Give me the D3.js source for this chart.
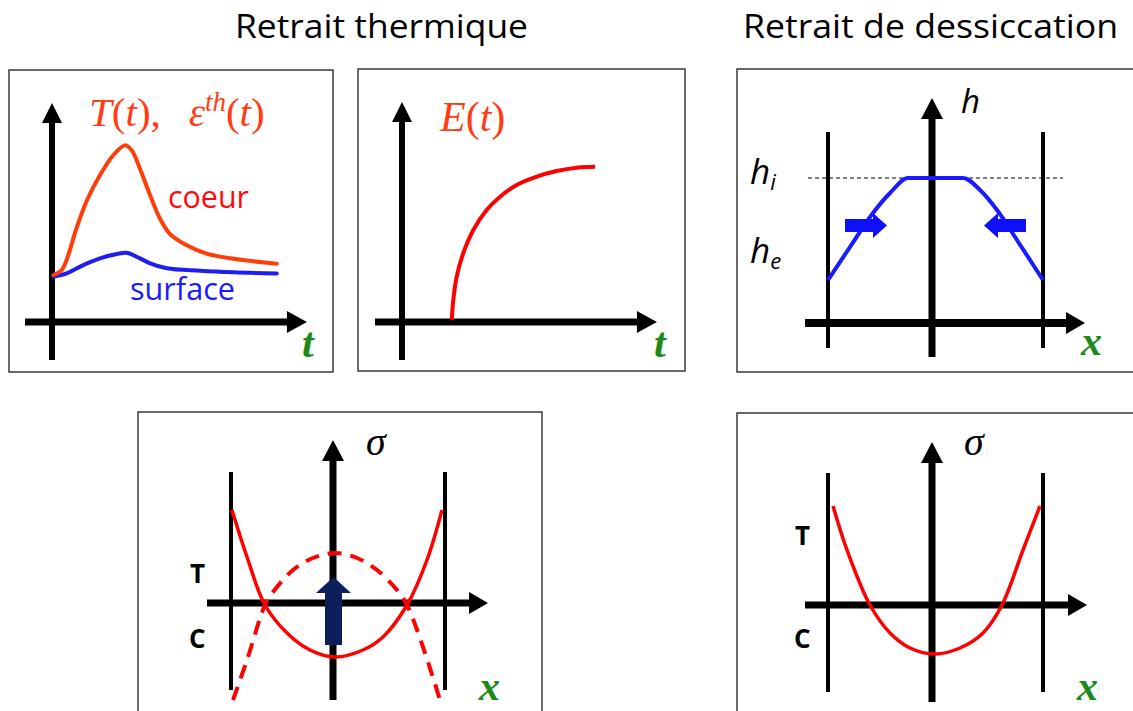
<!DOCTYPE html>
<meta charset="utf-8">
<style>
body { margin: 0; background: #fff; }
text { font-family: "Open Sans", sans-serif; }
.serif { font-family: "Liberation Serif", "Times New Roman", serif; }
</style>
<svg width="1133" height="711"></svg>
<script src="https://d3js.org/d3.v7.min.js"></script>
<script>

// ---- data ----
// thermal panel: t, value
var coeur = [[0.06,2.09],[0.43,2.31],[0.65,2.76],[1.1,4.2],[1.54,5.38],[2.13,6.52],[2.72,7.41],[3.24,7.85],
             [3.54,7.63],[3.91,6.81],[4.36,5.63],[4.8,4.59],[5.24,3.92],[5.99,3.41],[6.87,3.04],[8.06,2.81],[9.99,2.59]];
var surface = [[0.06,2.01],[0.65,2.16],[1.39,2.53],[2.13,2.83],[2.88,3.02],[3.32,3.08],[3.76,2.9],[4.36,2.61],
               [5.1,2.39],[6.58,2.28],[8.06,2.21],[9.99,2.16]];
// modulus E(t)
var modulus = [[2.21,0.09],[2.28,0.98],[2.43,2.01],[2.72,3.05],[3.17,4.09],[3.76,4.98],[4.36,5.57],[5.1,6.09],
               [5.99,6.46],[6.87,6.71],[7.76,6.86],[8.58,6.9]];
// humidity profile h(x)
var humidity = [[-1.04,0.43],[-0.82,0.76],[-0.59,1.10],[-0.42,1.30],[-0.24,1.45],[0.31,1.45],[0.48,1.33],
                [0.65,1.13],[0.85,0.83],[1.11,0.43]];
var hInit = 1.45;
// thermal stresses sigma(x)
var stressSolid = [[-1.01,0.93],[-0.86,0.46],[-0.68,-0.02],[-0.46,-0.30],[-0.23,-0.47],[0.02,-0.54],[0.30,-0.47],
                   [0.50,-0.34],[0.74,-0.02],[0.94,0.43],[1.09,0.93]];
var stressDashed = [[-1.0,-0.97],[-0.86,-0.57],[-0.68,-0.02],[-0.60,0.11],[-0.40,0.33],[-0.20,0.45],[0.02,0.50],
                    [0.24,0.45],[0.44,0.33],[0.64,0.13],[0.74,-0.02],[0.90,-0.44],[1.07,-0.97]];
// drying stresses sigma(x)
var stressDry = [[-0.99,0.99],[-0.85,0.55],[-0.62,0],[-0.42,-0.28],[-0.22,-0.43],[0.03,-0.49],[0.28,-0.43],
                 [0.51,-0.28],[0.70,0],[0.91,0.55],[1.08,0.99]];
var walls = [-1.04, 1.11];
var wallsTh = [-1.02, 1.12];

var titles = ["Retrait thermique", "Retrait de dessiccation"];

var svg = d3.select("svg");
svg.append("rect").attr("width", 1133).attr("height", 711).attr("fill", "#fff");

function arrow(g, x1, y1, x2, y2, w, hl, hw, col) {
  var dx = x2 - x1, dy = y2 - y1, L = Math.hypot(dx, dy), ux = dx / L, uy = dy / L;
  var bx = x2 - ux * hl, by = y2 - uy * hl;
  g.append("line").attr("x1", x1).attr("y1", y1).attr("x2", bx + ux).attr("y2", by + uy)
    .attr("stroke", col).attr("stroke-width", w);
  g.append("path")
    .attr("d", "M" + x2 + "," + y2 + "L" + (bx - uy * hw) + "," + (by + ux * hw) + "L" + (bx + uy * hw) + "," + (by - ux * hw) + "Z")
    .attr("fill", col);
}

function frame(x, y, w, h) {
  svg.append("rect").attr("x", x).attr("y", y).attr("width", w).attr("height", h)
    .attr("fill", "none").attr("stroke", "#3a3a3a").attr("stroke-width", 1.5);
}

function greenLabel(x, y, s) {
  svg.append("text").attr("class", "serif").attr("x", x).attr("y", y)
    .attr("font-size", 42).attr("font-style", "italic").attr("font-weight", "bold")
    .attr("fill", "#1b8a1b").text(s);
}

function tcLabels(xT, yT, xC, yC) {
  svg.append("text").attr("x", xT).attr("y", yT).attr("font-size", 26).attr("font-weight", "bold").text("T");
  svg.append("text").attr("x", xC).attr("y", yC).attr("font-size", 26).attr("font-weight", "bold").text("C");
}

// titles
svg.append("text").attr("x", 235).attr("y", 38).attr("font-size", 32)
  .attr("textLength", 293).attr("lengthAdjust", "spacingAndGlyphs").text(titles[0]);
svg.append("text").attr("x", 743).attr("y", 38).attr("font-size", 32)
  .attr("textLength", 375).attr("lengthAdjust", "spacingAndGlyphs").text(titles[1]);

// ---- panel 1 : T(t), eps_th(t) ----
frame(9, 70, 324, 302);
var x1 = d3.scaleLinear().domain([0, 10]).range([52, 277]);
var y1 = d3.scaleLinear().domain([0, 10]).range([322, 97]);
var line1 = d3.line().x(function(d) { return x1(d[0]); }).y(function(d) { return y1(d[1]); })
  .curve(d3.curveCatmullRom.alpha(0.5));
arrow(svg, x1(0), y1(-1.69), x1(0), y1(9.73), 6, 20, 10, "#000");
arrow(svg, x1(-1.2), y1(0), x1(11.33), y1(0), 7, 20, 11, "#000");
svg.append("path").datum(surface).attr("d", line1).attr("fill", "none")
  .attr("stroke", "#1e1ef0").attr("stroke-width", 4).attr("stroke-linecap", "round");
svg.append("path").datum(coeur).attr("d", line1).attr("fill", "none")
  .attr("stroke", "#ff3d0a").attr("stroke-width", 4).attr("stroke-linecap", "round");
var tt = svg.append("text").attr("class", "serif").attr("x", 89).attr("y", 126)
  .attr("font-size", 41).attr("fill", "#ff3d14");
tt.append("tspan").attr("font-style", "italic").text("T");
tt.append("tspan").text("(");
tt.append("tspan").attr("font-style", "italic").text("t");
tt.append("tspan").text("),");
tt.append("tspan").attr("font-style", "italic").attr("dx", 28).text("ε");
tt.append("tspan").attr("font-style", "italic").attr("font-size", 27).attr("dy", -15).text("th");
tt.append("tspan").attr("dy", 15).text("(");
tt.append("tspan").attr("font-style", "italic").text("t");
tt.append("tspan").text(")");
svg.append("text").attr("x", 168).attr("y", 208).attr("font-size", 31).attr("fill", "#ff0a0a")
  .attr("textLength", 81).attr("lengthAdjust", "spacingAndGlyphs").text("coeur");
svg.append("text").attr("x", 130).attr("y", 300).attr("font-size", 31).attr("fill", "#1a1aff")
  .attr("textLength", 105).attr("lengthAdjust", "spacingAndGlyphs").text("surface");
greenLabel(302, 357, "t");

// ---- panel 2 : E(t) ----
frame(358, 69, 327, 302);
var x2 = d3.scaleLinear().domain([0, 10]).range([402, 627]);
var y2 = d3.scaleLinear().domain([0, 10]).range([322, 97]);
var line2 = d3.line().x(function(d) { return x2(d[0]); }).y(function(d) { return y2(d[1]); })
  .curve(d3.curveCatmullRom.alpha(0.5));
arrow(svg, x2(0), y2(-1.69), x2(0), y2(9.78), 6, 20, 10, "#000");
arrow(svg, x2(-1.2), y2(0), x2(11.33), y2(0), 7, 20, 11, "#000");
svg.append("path").datum(modulus).attr("d", line2).attr("fill", "none")
  .attr("stroke", "#ff0000").attr("stroke-width", 4);
var et = svg.append("text").attr("class", "serif").attr("x", 440).attr("y", 131)
  .attr("font-size", 42).attr("fill", "#ff3d14");
et.append("tspan").attr("font-style", "italic").text("E");
et.append("tspan").text("(");
et.append("tspan").attr("font-style", "italic").text("t");
et.append("tspan").text(")");
greenLabel(654, 357, "t");

// ---- panel 3 : humidity ----
frame(737, 69, 420, 303);
var x3 = d3.scaleLinear().domain([0, 1]).range([932, 1032]);
var y3 = d3.scaleLinear().domain([0, 1]).range([323, 223]);
walls.forEach(function(w) {
  svg.append("line").attr("x1", x3(w)).attr("x2", x3(w)).attr("y1", y3(-0.25)).attr("y2", y3(1.91))
    .attr("stroke", "#000").attr("stroke-width", 4);
});
arrow(svg, x3(-1.27), y3(0), x3(1.53), y3(0), 8, 19, 11, "#000");
arrow(svg, x3(0), y3(-0.34), x3(0), y3(2.25), 7, 21, 11, "#000");
svg.append("line").attr("x1", x3(-1.24)).attr("x2", x3(1.31)).attr("y1", y3(hInit)).attr("y2", y3(hInit))
  .attr("stroke", "#000").attr("stroke-width", 1).attr("stroke-dasharray", "4,3");
svg.append("path").datum(humidity)
  .attr("d", d3.line().x(function(d) { return x3(d[0]); }).y(function(d) { return y3(d[1]); }).curve(d3.curveMonotoneX))
  .attr("fill", "none").attr("stroke", "#1a1aff").attr("stroke-width", 4);
arrow(svg, x3(-0.87), y3(0.975), x3(-0.45), y3(0.975), 13, 14, 12.5, "#0f0fff");
arrow(svg, x3(0.94), y3(0.975), x3(0.52), y3(0.975), 13, 14, 12.5, "#0f0fff");
svg.append("text").attr("x", 961).attr("y", 113).attr("font-size", 33).attr("font-style", "italic").text("h");
var hi = svg.append("text").attr("x", 750).attr("y", 184).attr("font-size", 35).attr("font-style", "italic");
hi.append("tspan").text("h");
hi.append("tspan").attr("font-size", 22).attr("dy", 6).text("i");
var he = svg.append("text").attr("x", 750).attr("y", 263).attr("font-size", 35).attr("font-style", "italic");
he.append("tspan").text("h");
he.append("tspan").attr("font-size", 22).attr("dy", 6).text("e");
greenLabel(1081, 355, "x");

// ---- panel 4 : thermal stresses ----
frame(138, 412, 404, 320);
var x4 = d3.scaleLinear().domain([0, 1]).range([333, 433]);
var y4 = d3.scaleLinear().domain([0, 1]).range([603, 503]);
var line4 = d3.line().x(function(d) { return x4(d[0]); }).y(function(d) { return y4(d[1]); })
  .curve(d3.curveCatmullRom.alpha(0.5));
wallsTh.forEach(function(w) {
  svg.append("line").attr("x1", x4(w)).attr("x2", x4(w)).attr("y1", y4(-0.87)).attr("y2", y4(1.31))
    .attr("stroke", "#000").attr("stroke-width", 4);
});
arrow(svg, x4(0), y4(-0.97), x4(0), y4(1.63), 7, 21, 11, "#000");
arrow(svg, x4(-1.26), y4(0), x4(1.55), y4(0), 7, 19, 11, "#000");
svg.append("path").datum(stressDashed).attr("d", line4).attr("fill", "none")
  .attr("stroke", "#ff0000").attr("stroke-width", 4).attr("stroke-dasharray", "14,9");
svg.append("path").datum(stressSolid).attr("d", line4).attr("fill", "none")
  .attr("stroke", "#ff0000").attr("stroke-width", 3.5);
arrow(svg, x4(0.005), y4(-0.42), x4(0.005), y4(0.26), 17, 16, 17.5, "#0a1f5c");
svg.append("text").attr("class", "serif").attr("x", 366).attr("y", 455).attr("font-size", 40)
  .attr("font-style", "italic").text("σ");
tcLabels(190, 583, 189, 648);
greenLabel(479, 700, "x");

// ---- panel 5 : drying stresses ----
frame(737, 413, 420, 320);
var x5 = d3.scaleLinear().domain([0, 1]).range([932, 1032]);
var y5 = d3.scaleLinear().domain([0, 1]).range([605, 505]);
walls.forEach(function(w) {
  svg.append("line").attr("x1", x5(w)).attr("x2", x5(w)).attr("y1", y5(-0.87)).attr("y2", y5(1.32))
    .attr("stroke", "#000").attr("stroke-width", 4);
});
arrow(svg, x5(0), y5(-0.97), x5(0), y5(1.63), 7, 21, 11, "#000");
arrow(svg, x5(-1.27), y5(0), x5(1.55), y5(0), 7, 19, 11, "#000");
svg.append("path").datum(stressDry)
  .attr("d", d3.line().x(function(d) { return x5(d[0]); }).y(function(d) { return y5(d[1]); }).curve(d3.curveCatmullRom.alpha(0.5)))
  .attr("fill", "none").attr("stroke", "#ff0000").attr("stroke-width", 3.5);
svg.append("text").attr("class", "serif").attr("x", 964).attr("y", 455).attr("font-size", 40)
  .attr("font-style", "italic").text("σ");
tcLabels(795, 545, 794, 648);
greenLabel(1077, 700, "x");

</script>
